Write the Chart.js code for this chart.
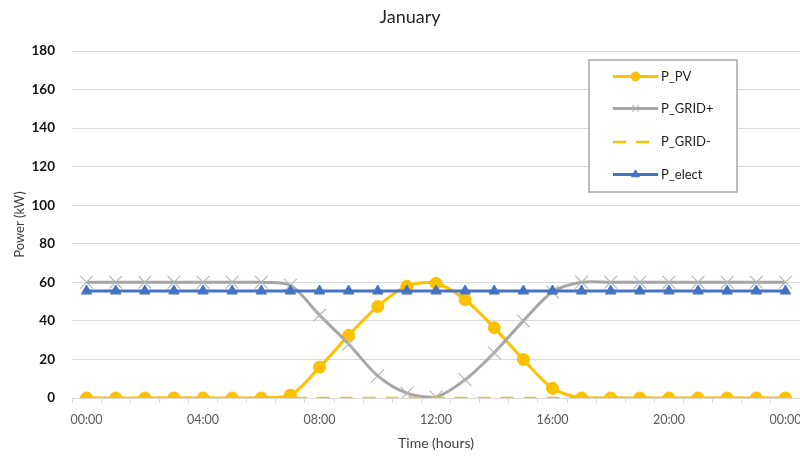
<!DOCTYPE html>
<html>
<head>
<meta charset="utf-8">
<script src="https://cdn.jsdelivr.net/npm/chart.js@4/dist/chart.umd.min.js"></script>
<style>
  html, body { margin: 0; padding: 0; background: #ffffff; overflow: hidden; }
  #wrap { width: 800px; height: 456px; overflow: hidden; }
  #chart { display: block; }
</style>
</head>
<body>
<div id="wrap"><canvas id="chart" width="820" height="456"></canvas></div>
<script>
// Hourly time stamps for one day (the last one closes the day at midnight)
const hours = ["00:00","01:00","02:00","03:00","04:00","05:00","06:00","07:00","08:00","09:00","10:00","11:00",
               "12:00","13:00","14:00","15:00","16:00","17:00","18:00","19:00","20:00","21:00","22:00","23:00","00:00"];

// Power flows in kW
const pPV    = [0,0,0,0,0,0,0,1.5,16,32.5,47.5,58,59.5,51,36.5,20,5,0,0,0,0,0,0,0,0];
const pGridPlus  = [60,60,60,60,60,60,60,58.5,43,28,11.5,2.5,0.5,9.5,23.5,40,55,60,60,60,60,60,60,60,60];
const pGridMinus = [0,0,0,0,0,0,0,0,0,0,0,0,0,0,0,0,0,0,0,0,0,0,0,0,0];
const pElect = [55.5,55.5,55.5,55.5,55.5,55.5,55.5,55.5,55.5,55.5,55.5,55.5,55.5,55.5,55.5,55.5,55.5,55.5,55.5,55.5,55.5,55.5,55.5,55.5,55.5];

const seriesNames = ["P_PV", "P_GRID+", "P_GRID-", "P_elect"];
const chartTitle = "January";
const yTicks = { min: 0, max: 180, step: 20 };

const FONT = "Lato, 'Open Sans', 'DejaVu Sans', sans-serif";
const ORANGE = "#FFC000", GREY = "#A5A5A5", BLUE = "#4472C4", GRID = "#D9D9D9";

// Title centred over the whole figure
const figureTitle = {
  id: "figureTitle",
  afterDraw(chart) {
    const ctx = chart.ctx;
    ctx.save();
    ctx.fillStyle = "#262626";
    ctx.font = "18px " + FONT;
    ctx.textAlign = "center";
    ctx.textBaseline = "middle";
    ctx.fillText(chartTitle, 410, 17.5);
    ctx.restore();
  }
};

// Boxed legend placed inside the plot area, top right
const boxedLegend = {
  id: "boxedLegend",
  afterDatasetsDraw(chart) {
    const ctx = chart.ctx;
    const box = { x: 589, y: 60, w: 148, h: 132 };
    const rows = [76.5, 108.5, 142, 174.5];
    ctx.save();
    ctx.fillStyle = "#ffffff";
    ctx.fillRect(box.x, box.y, box.w, box.h);
    ctx.strokeStyle = "#A6A6A6";
    ctx.lineWidth = 1.5;
    ctx.strokeRect(box.x, box.y, box.w, box.h);
    chart.data.datasets.forEach((ds, i) => {
      const y = rows[i];
      const x0 = 613, x1 = 658;
      ctx.beginPath();
      ctx.strokeStyle = ds.borderColor;
      ctx.lineWidth = ds.borderWidth;
      ctx.setLineDash(ds.borderDash || []);
      ctx.moveTo(x0, y);
      ctx.lineTo(x1, y);
      ctx.stroke();
      ctx.setLineDash([]);
      if (ds.pointRadius > 0) {
        ctx.fillStyle = ds.pointBackgroundColor;
        ctx.strokeStyle = ds.pointBorderColor;
        ctx.lineWidth = ds.pointBorderWidth;
        Chart.helpers.drawPoint(ctx, {
          pointStyle: ds.pointStyle,
          radius: ds.legendPointRadius,
          borderWidth: ds.pointBorderWidth,
          rotation: 0
        }, (x0 + x1) / 2, y);
      }
      ctx.fillStyle = "#1f1f1f";
      ctx.font = "13px " + FONT;
      ctx.textBaseline = "middle";
      ctx.textAlign = "left";
      ctx.fillText(ds.label, 661, y);
    });
    ctx.restore();
  }
};

const chart = new Chart(document.getElementById("chart"), {
  type: "line",
  data: {
    labels: hours,
    datasets: [
      {
        label: seriesNames[0], data: pPV, order: 3,
        borderColor: ORANGE, borderWidth: 3, tension: 0.3,
        pointStyle: "circle", pointRadius: 6, legendPointRadius: 4.5,
        pointBackgroundColor: ORANGE, pointBorderColor: ORANGE, pointBorderWidth: 1
      },
      {
        label: seriesNames[1], data: pGridPlus, order: 2,
        borderColor: GREY, borderWidth: 3, tension: 0.3,
        pointStyle: "crossRot", pointRadius: 9, legendPointRadius: 4.5,
        pointBackgroundColor: GREY, pointBorderColor: "#B4B4B4", pointBorderWidth: 1.1
      },
      {
        label: seriesNames[2], data: pGridMinus, order: 1,
        borderColor: ORANGE, borderWidth: 2.5, borderDash: [13, 10], tension: 0,
        pointRadius: 0, legendPointRadius: 0
      },
      {
        label: seriesNames[3], data: pElect, order: 0,
        borderColor: BLUE, borderWidth: 3, tension: 0,
        pointStyle: "triangle", pointRadius: 6, legendPointRadius: 4.5,
        pointBackgroundColor: BLUE, pointBorderColor: BLUE, pointBorderWidth: 1
      }
    ]
  },
  options: {
    responsive: false,
    animation: false,
    layout: { padding: { top: 51, right: 20, bottom: 0, left: 0 } },
    plugins: {
      legend: { display: false },
      tooltip: { enabled: false },
      title: { display: false }
    },
    scales: {
      x: {
        type: "category",
        offset: true,
        grid: { display: true, drawOnChartArea: false, drawTicks: true, tickLength: 5, offset: true, color: GRID, lineWidth: 1 },
        border: { display: true, color: GRID, width: 1 },
        ticks: {
          autoSkip: false, maxRotation: 0, minRotation: 0, padding: 9,
          color: "#595959", font: { family: FONT, size: 12.5 },
          callback: function (value, index) { return index % 4 === 0 ? this.getLabelForValue(value) : ""; }
        },
        title: {
          display: true, text: "Time (hours)", color: "#404040",
          font: { family: FONT, size: 14 }, padding: { top: 4, bottom: 4 }
        },
        afterFit(scale) { scale.height = 58; }
      },
      y: {
        min: yTicks.min, max: yTicks.max,
        grid: { color: GRID, lineWidth: 1, drawTicks: false },
        border: { display: false },
        ticks: {
          stepSize: yTicks.step, padding: 17,
          color: "#111111", font: { family: FONT, size: 13.5, weight: "bold" }
        },
        title: {
          display: true, text: "Power (kW)", color: "#404040",
          font: { family: FONT, size: 13 }, padding: { top: 12, bottom: 0 }
        },
        afterFit(scale) { scale.width = 72; }
      }
    }
  },
  plugins: [boxedLegend, figureTitle]
});
</script>
</body>
</html>
